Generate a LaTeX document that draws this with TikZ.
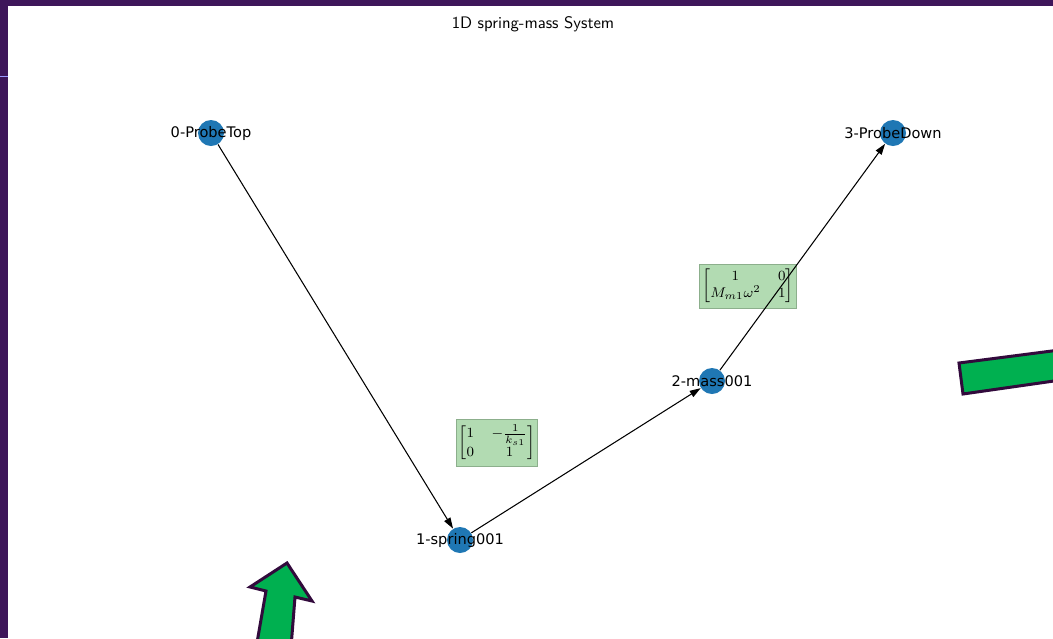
\documentclass[tikz,border=0pt]{standalone}
\usepackage{amsmath}
\usepackage{fontspec}
\newfontfamily\labelfont{DejaVu Sans}
\usetikzlibrary{arrows.meta}
\definecolor{framepurple}{RGB}{62,22,90}
\definecolor{nodeblue}{RGB}{31,119,180}
\definecolor{boxgreen}{RGB}{178,219,178}
\definecolor{boxedge}{RGB}{140,175,140}
\definecolor{arrowgreen}{RGB}{0,176,80}
\definecolor{arrowedge}{RGB}{50,10,60}

\begin{document}
\begin{tikzpicture}[x=0.2mm,y=-0.2mm]
  \tikzset{station/.style = {shape=circle,fill=nodeblue,minimum size=5.2mm,inner sep=0pt}}
  \tikzset{stationlabel/.style = {font=\labelfont\fontsize{8.3}{10}\selectfont,inner sep=0pt}}
  \tikzset{tfbox/.style = {shape=rectangle,draw=boxedge,fill=boxgreen,inner xsep=1.5pt,inner ysep=3pt,font=\fontsize{8}{9}\selectfont}}
  \tikzset{bigarrow/.style = {draw=arrowedge,fill=arrowgreen,line width=0.6mm,line join=miter}}
  \tikzset{edge/.style = {line width=0.6pt}}
  \tikzset{%
  tipA/.tip={Triangle[length=2.2mm,width=1.4mm]},
}

  % frame
  \clip (0,0) rectangle (1053,638);
  \fill[white] (0,0) rectangle (1053,638);
  \fill[framepurple] (0,0) rectangle (1053,6);
  \fill[framepurple] (0,0) rectangle (8,638);
  \draw[blue!40,line width=0.3pt] (0,76) -- (8,76);

  \node[font=\sffamily\fontsize{9.5}{11}\selectfont] (title) at (533,24) {1D spring-mass System};

  % transfer matrices
  \node[tfbox] (T01) at (497,443) {$\begin{bmatrix}1 & -\frac{1}{k_{s1}}\\ 0 & 1\end{bmatrix}$};
  \node[tfbox] (T12) at (748,286) {$\begin{bmatrix}1 & 0\\ M_{m1}\omega^2 & 1\end{bmatrix}$};

	\node[station] (P0) at (211,133) {};
	\node[station] (S1) at (460,540) {};
	\node[station] (M2) at (712,381) {};
	\node[station] (P3) at (893,133) {};

    \foreach \from/\to in {P0/S1, S1/M2, M2/P3}
    \path[-tipA,edge](\from) edge (\to);

	\node[stationlabel] (L0) at (P0) {0-ProbeTop};
	\node[stationlabel] (L1) at (S1) {1-spring001};
	\node[stationlabel] (L2) at (M2) {2-mass001};
	\node[stationlabel] (L3) at (P3) {3-ProbeDown};

  % green arrows
  \draw[bigarrow] (287,563) -- (312,601) -- (295,597) -- (290,660) -- (254,660) -- (266,591) -- (250,587) -- cycle;
  \draw[bigarrow] (959,363) -- (1075,348) -- (1075,378) -- (963,394) -- cycle;
\end{tikzpicture}
\end{document}
